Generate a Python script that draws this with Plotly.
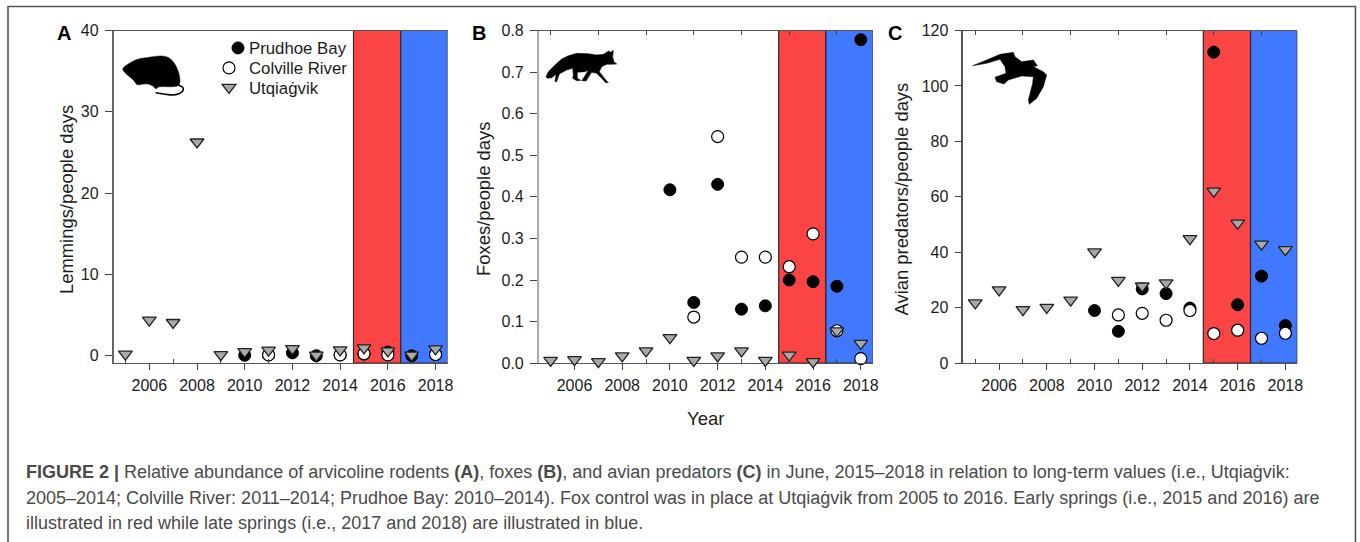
import plotly.graph_objects as go

W, H = 1360, 542
years = list(range(2005, 2019))
even_years = list(range(2006, 2019, 2))
odd_years = list(range(2005, 2019, 2))

# Panel A: lemmings/people days
a_prudhoe = [None, None, None, None, None, 0.05, 0.1, 0.35, 0.0, 0.1, 0.2, 0.45, 0.0, 0.15]
a_colville = [None, None, None, None, None, None, 0.1, None, None, 0.1, 0.25, 0.1, None, 0.15]
a_utqiagvik = [0.0, 4.2, 3.9, 26.1, -0.05, 0.33, 0.5, 0.7, -0.1, 0.53, 0.78, 0.4, -0.1, 0.65]
# Panel B: foxes/people days
b_prudhoe = [None, None, None, None, None, 0.417, 0.146, 0.43, 0.13, 0.138, 0.2, 0.196, 0.185, 0.778]
b_colville = [None, None, None, None, None, None, 0.111, 0.545, 0.255, 0.255, 0.232, 0.311, 0.078, 0.011]
b_utqiagvik = [0.003, 0.005, 0.0, 0.014, 0.026, 0.058, 0.003, 0.014, 0.026, 0.003, 0.016, 0.0, 0.074, 0.044]
# Panel C: avian predators/people days
c_prudhoe = [None, None, None, None, None, 19, 11.5, 26.8, 25.1, 19.9, 112.2, 21.1, 31.4, 13.6]
c_colville = [None, None, None, None, None, None, 17.4, 18, 15.5, 19, 10.7, 11.9, 9, 10.8]
c_utqiagvik = [21.2, 25.9, 18.8, 19.6, 22.2, 39.6, 29.3, 27.3, 28.4, 44.4, 61.5, 50, 42.4, 40.4]

caption_lines = [
    "<b>FIGURE 2 |</b> Relative abundance of arvicoline rodents <b>(A)</b>, foxes <b>(B)</b>, and avian predators <b>(C)</b> in June, 2015–2018 in relation to long-term values (i.e., Utqiaġvik:",
    "2005–2014; Colville River: 2011–2014; Prudhoe Bay: 2010–2014). Fox control was in place at Utqiaġvik from 2005 to 2016. Early springs (i.e., 2015 and 2016) are",
    "illustrated in red while late springs (i.e., 2017 and 2018) are illustrated in blue.",
]

RED, BLUE = "#FB4444", "#4079FF"
INK = "#1c1c1c"
FAMILY = "Liberation Sans, Arial, sans-serif"
TICKFONT = dict(family=FAMILY, size=16, color=INK)


def fx(x):
    return x / W


def fy(y):
    return 1 - y / H


panels = [
    dict(left=113.5, right=447.5, ymin=-0.92, ymax=40, dtick=10, fmt="d", title="Lemmings/people days",
         data=(a_prudhoe, a_colville, a_utqiagvik), spine="#666666", letter="A", lx=64, top_ticks=False,
         tx=66, ty=200),
    dict(left=538.7, right=872.7, ymin=0, ymax=0.8, dtick=0.1, fmt=".1f", title="Foxes/people days",
         data=(b_prudhoe, b_colville, b_utqiagvik), spine="#ababab", letter="B", lx=479, top_ticks=True,
         tx=483, ty=199),
    dict(left=963.3, right=1297.3, ymin=0, ymax=120, dtick=20, fmt="d", title="Avian predators/people days",
         data=(c_prudhoe, c_colville, c_utqiagvik), spine="#555555", letter="C", lx=895, top_ticks=True,
         tx=901, ty=199.5),
]
TOP, BOTTOM = 30.5, 363.2
TRI_SIZE = 12
TRI_SHIFT = TRI_SIZE / 8  # the plotly triangle's box centre lies below its anchor

fig = go.Figure()
layout = dict(width=W, height=H, margin=dict(l=0, r=0, t=0, b=0), paper_bgcolor="white", plot_bgcolor="rgba(0,0,0,0)",
              font=TICKFONT, shapes=[], annotations=[])

for name, ypx in (("legend", 48), ("legend2", 68), ("legend3", 87.5)):
    layout[name] = dict(x=fx(209), y=fy(ypx), xanchor="left", yanchor="middle", bgcolor="rgba(0,0,0,0)",
                        font=dict(family=FAMILY, size=16.8, color=INK), itemwidth=30)

for i, p in enumerate(panels):
    n = i + 1
    xa, ya = f"x{n if n > 1 else ''}", f"y{n if n > 1 else ''}"
    xkey, ykey = f"xaxis{n if n > 1 else ''}", f"yaxis{n if n > 1 else ''}"
    yt = f"y{n + 3}"
    xtop = f"x{n + 3}"
    dom_x = [fx(p["left"]), fx(p["right"])]
    layout[xkey] = dict(domain=dom_x, range=[2004.5, 2018.5], anchor=ya, tickmode="array", tickvals=even_years,
                        ticks="outside", ticklen=6, tickcolor="#444444", tickwidth=1, tickfont=TICKFONT,
                        showgrid=False, zeroline=False, showline=True, linecolor="#555555", linewidth=1.3,
                        mirror=True, ticklabelstandoff=1, automargin=False,
                        minor=dict(tickmode="array", tickvals=odd_years, ticks="inside", ticklen=4,
                                   tickcolor="#444444", tickwidth=1, showgrid=False))
    layout[ykey] = dict(domain=[fy(BOTTOM), fy(TOP)], range=[p["ymin"], p["ymax"]], anchor=xa, dtick=p["dtick"], tick0=0,
                        tickformat=p["fmt"], ticks="outside", ticklen=7, tickcolor="#444444", tickwidth=1,
                        tickfont=TICKFONT, showgrid=False, zeroline=False, showline=True, linecolor=p["spine"],
                        linewidth=1.5, automargin=False, ticklabelstandoff=3)
    if n == 2:
        layout[xkey]["title"] = dict(text="Year", standoff=19, font=dict(family=FAMILY, size=18.5, color=INK))
    # invisible twin axis: lifts triangles so that their box centre sits on the value
    layout[f"yaxis{n + 3}"] = dict(domain=[fy(BOTTOM - TRI_SHIFT), fy(TOP - TRI_SHIFT)],
                                   range=[p["ymin"], p["ymax"]], anchor=xa, visible=False)
    if p["top_ticks"]:
        layout[f"xaxis{n + 3}"] = dict(overlaying=xa, side="top", anchor=ya, range=[2004.5, 2018.5],
                                       tickmode="array", tickvals=odd_years, ticks="inside", ticklen=4,
                                       tickcolor="#444444", showticklabels=False, showgrid=False, zeroline=False)
        fig.add_trace(go.Scatter(x=[None], y=[None], xaxis=xtop, yaxis=ya, showlegend=False, hoverinfo="skip"))

    for x0, x1, col in ((2014.56, 2016.54, RED), (2016.54, 2018.5, BLUE)):
        layout["shapes"].append(dict(type="rect", xref=xa, yref=ya, x0=x0, x1=x1, y0=p["ymin"], y1=p["ymax"],
                                     fillcolor=col, line=dict(color="#2a2a2a", width=1.2), layer="below"))

    prud, colv, utq = p["data"]
    show = n == 1
    fig.add_trace(go.Scatter(x=years, y=prud, mode="markers", name="Prudhoe Bay", xaxis=xa, yaxis=ya, showlegend=show,
                             legend="legend", cliponaxis=False,
                             marker=dict(symbol="circle", size=12, color="black", line=dict(color="black", width=1))))
    fig.add_trace(go.Scatter(x=years, y=colv, mode="markers", name="Colville River", xaxis=xa, yaxis=ya, showlegend=show,
                             legend="legend2", cliponaxis=False,
                             marker=dict(symbol="circle", size=12, color="white", line=dict(color="black", width=1.2))))
    fig.add_trace(go.Scatter(x=years, y=utq, mode="markers", name="Utqiaġvik", xaxis=xa, yaxis=yt, showlegend=show,
                             legend="legend3", cliponaxis=False,
                             marker=dict(symbol="triangle-down", size=TRI_SIZE, color="#a9a9a9",
                                         line=dict(color="#222222", width=1.3))))
    layout["annotations"].append(dict(text=f"<b>{p['letter']}</b>", xref="paper", yref="paper", x=fx(p["lx"]), y=fy(33),
                                      showarrow=False, xanchor="center", yanchor="middle",
                                      font=dict(family=FAMILY, size=20, color="black")))
    layout["annotations"].append(dict(text=p["title"], xref="paper", yref="paper", x=fx(p["tx"]), y=fy(p["ty"]),
                                      showarrow=False, xanchor="center", yanchor="middle", textangle=-90,
                                      font=dict(family=FAMILY, size=18.4, color=INK)))


def icon(points, ox, oy, smooth=False, closed=True, width=0.5):
    pts = [(fx(ox + zx / 3), fy(oy + zy / 3)) for zx, zy in points]
    if smooth:
        mids = [((pts[k][0] + pts[k + 1][0]) / 2, (pts[k][1] + pts[k + 1][1]) / 2) for k in range(len(pts) - 1)]
        if closed:
            mids.append(((pts[-1][0] + pts[0][0]) / 2, (pts[-1][1] + pts[0][1]) / 2))
            path = f"M {mids[-1][0]:.5f},{mids[-1][1]:.5f} "
            path += " ".join(f"Q {pts[k][0]:.5f},{pts[k][1]:.5f} {mids[k][0]:.5f},{mids[k][1]:.5f}" for k in range(len(pts)))
            path += " Z"
        else:
            path = f"M {pts[0][0]:.5f},{pts[0][1]:.5f} "
            path += " ".join(f"Q {pts[k][0]:.5f},{pts[k][1]:.5f} {mids[k][0]:.5f},{mids[k][1]:.5f}" for k in range(1, len(mids)))
            path += f" L {pts[-1][0]:.5f},{pts[-1][1]:.5f}"
    else:
        path = "M " + " L ".join(f"{a:.5f},{b:.5f}" for a, b in pts) + " Z"
    return dict(type="path", xref="paper", yref="paper", path=path,
                fillcolor="black" if closed else "rgba(0,0,0,0)", line=dict(color="black", width=width))


rodent = [(247, 160), (262, 148), (290, 132), (320, 128), (345, 124), (375, 122), (395, 133), (410, 155), (420, 185),
          (420, 212), (400, 216), (355, 214), (348, 224), (340, 212), (320, 205), (290, 211), (285, 200),
          (275, 190), (262, 180), (250, 168)]
rodent_tail = [(415, 210), (432, 216), (428, 232), (405, 241), (375, 238), (347, 233)]
fox = [(470, 147), (462, 140), (458, 125), (460, 106), (452, 112), (446, 108), (430, 118), (410, 120), (385, 116),
       (350, 115), (325, 122), (305, 132), (285, 150), (265, 170), (258, 185), (262, 190), (275, 188), (288, 178),
       (285, 200), (290, 200), (298, 177), (320, 165), (338, 160), (340, 180), (338, 190), (350, 197), (362, 196),
       (352, 190), (352, 172), (375, 170), (385, 165), (375, 182), (365, 197), (378, 198), (395, 172), (410, 175),
       (425, 190), (437, 203), (445, 203), (432, 188), (418, 170), (425, 155), (440, 148), (455, 148)]
bird = [(278, 152), (320, 135), (360, 118), (400, 112), (405, 125), (425, 140), (460, 135), (472, 152), (460, 155),
        (490, 170), (500, 180), (490, 215), (470, 250), (448, 268), (445, 255), (458, 205), (460, 185), (425, 183),
        (385, 195), (372, 207), (350, 200), (345, 187), (378, 175), (375, 155), (360, 133), (320, 145)]
layout["shapes"] += [icon(rodent, 40, 15, smooth=True), icon(rodent_tail, 40, 15, smooth=True, closed=False, width=1.6),
                     icon(fox, 460, 15), icon(bird, 880, 15)]

# outer figure frame, open at the bottom
frame = f"M {fx(8)},0 L {fx(8)},{fy(6.5)} L {fx(1355.5)},{fy(6.5)} L {fx(1355.5)},0"
layout["shapes"].append(dict(type="path", xref="paper", yref="paper", path=frame, line=dict(color="#555555", width=1.6)))

for line, ypx in zip(caption_lines, (472, 498, 523)):
    layout["annotations"].append(dict(text=line, xref="paper", yref="paper", x=fx(24), y=fy(ypx), showarrow=False,
                                      xanchor="left", yanchor="middle", align="left",
                                      font=dict(family=FAMILY, size=18, color="#4a4a4a")))

fig.update_layout(**layout)
post = """
document.body.style.margin='0';document.documentElement.style.overflow='hidden';
document.querySelectorAll('.legend .legendsymbols').forEach(function(g){g.setAttribute('transform','translate(9,0)');});
"""
fig.write_html("out.html", config=dict(displayModeBar=False), post_script=post)
